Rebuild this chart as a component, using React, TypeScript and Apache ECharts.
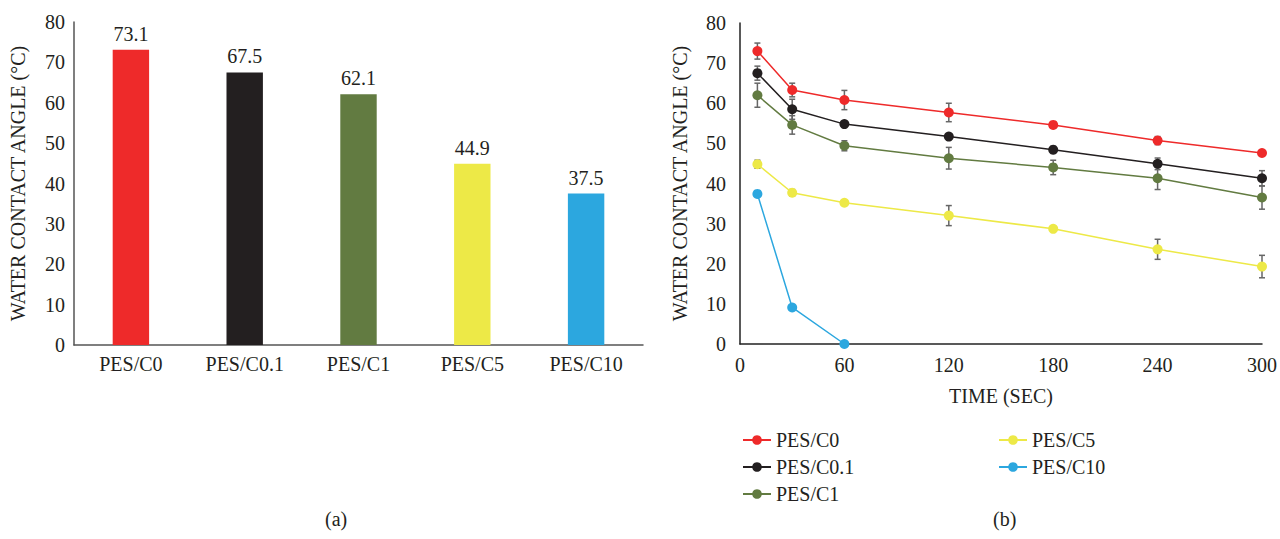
import React, { useEffect, useRef } from "react";
import * as echarts from "echarts";

// ---- data ----
const barCategories = ["PES/C0", "PES/C0.1", "PES/C1", "PES/C5", "PES/C10"];
const barValues = [73.1, 67.5, 62.1, 44.9, 37.5];

const times = [10, 30, 60, 120, 180, 240, 300];
const seriesNames = ["PES/C0", "PES/C0.1", "PES/C1", "PES/C5", "PES/C10"];
const c0Values = [73.0, 63.3, 60.8, 57.7, 54.6, 50.7, 47.6];
const c01Values = [67.5, 58.5, 54.8, 51.7, 48.4, 44.9, 41.3];
const c1Values = [62.0, 54.6, 49.4, 46.3, 44.0, 41.3, 36.5];
const c5Values = [44.8, 37.7, 35.2, 32.0, 28.7, 23.6, 19.3];
const c10Values = [37.4, 9.1, 0];

const c0Errors = [2.0, 1.7, 2.4, 2.3, 0.7, 1.0, 0.5];
const c01Errors = [1.75, 2.5, 0.6, 0.5, 0.9, 1.45, 1.9];
const c1Errors = [3.0, 2.3, 1.25, 2.7, 1.8, 2.8, 2.9];
const c5Errors = [1.0, 0.8, 0.3, 2.5, 0.3, 2.5, 2.8];

const yTicks = { min: 0, max: 80, interval: 10 };
const xTicks = { min: 0, max: 300, interval: 60 };

// ---- styles ----
const colors = ["#EE2A2A", "#231F20", "#627B41", "#EDE947", "#2CA7DF"];
const FONT = "Liberation Serif";
const TXT = "#231F20";
const FS = 20;

export default function App() {
  const ref = useRef<HTMLDivElement>(null);

  useEffect(() => {
    if (!ref.current) return;
    const chart = echarts.init(ref.current, undefined, { renderer: "svg" });

    const lineData = [c0Values, c01Values, c1Values, c5Values, c10Values];
    const errData = [c0Errors, c01Errors, c1Errors, c5Errors];

    const lineSeries: any[] = lineData.map((vals, i) => ({
      name: seriesNames[i],
      type: "line",
      xAxisIndex: 1,
      yAxisIndex: 1,
      data: vals.map((v, j) => [times[j], v]),
      symbol: "circle",
      symbolSize: 10,
      lineStyle: { color: colors[i], width: 1.5 },
      itemStyle: { color: colors[i] },
      z: 3,
    }));

    const errorSeries: any[] = errData.map((errs, i) => ({
      type: "custom",
      name: seriesNames[i] + " error",
      xAxisIndex: 1,
      yAxisIndex: 1,
      z: 2,
      silent: true,
      encode: { x: 0, y: [1, 2] },
      data: errs.map((e, j) => [times[j], lineData[i][j] - e, lineData[i][j] + e]),
      renderItem: (params: any, api: any) => {
        const x = api.value(0);
        const lo = api.coord([x, api.value(1)]);
        const hi = api.coord([x, api.value(2)]);
        const cap = 3;
        const style = { stroke: "#666666", lineWidth: 1.5 };
        return {
          type: "group",
          children: [
            { type: "line", shape: { x1: lo[0], y1: lo[1], x2: hi[0], y2: hi[1] }, style },
            { type: "line", shape: { x1: lo[0] - cap, y1: lo[1], x2: lo[0] + cap, y2: lo[1] }, style },
            { type: "line", shape: { x1: hi[0] - cap, y1: hi[1], x2: hi[0] + cap, y2: hi[1] }, style },
          ],
        };
      },
    }));

    const axisLabel = { color: TXT, fontFamily: FONT, fontSize: FS };
    const nameStyle = { color: TXT, fontFamily: FONT, fontSize: FS };

    chart.setOption({
      animation: false,
      grid: [
        { left: 74, top: 22, width: 569, height: 323, containLabel: false },
        { left: 740, top: 23, width: 526, height: 321, containLabel: false },
      ],
      xAxis: [
        {
          gridIndex: 0,
          type: "category",
          data: barCategories,
          axisLine: { lineStyle: { color: "#555555", width: 1.5 } },
          axisTick: { show: false },
          axisLabel: { ...axisLabel, margin: 9 },
        },
        {
          gridIndex: 1,
          type: "value",
          min: xTicks.min,
          max: xTicks.max,
          interval: xTicks.interval,
          splitLine: { show: false },
          axisLine: { lineStyle: { color: "#222222", width: 1.5 } },
          axisTick: { show: false },
          axisLabel: { ...axisLabel, margin: 11 },
          name: "TIME (SEC)",
          nameLocation: "middle",
          nameGap: 42,
          nameTextStyle: nameStyle,
        },
      ],
      yAxis: [
        {
          gridIndex: 0,
          type: "value",
          min: yTicks.min,
          max: yTicks.max,
          interval: yTicks.interval,
          splitLine: { show: false },
          axisLine: { show: true, lineStyle: { color: "#555555", width: 1.5 } },
          axisTick: { show: false },
          axisLabel: { ...axisLabel, margin: 9 },
          name: "WATER CONTACT ANGLE (°C)",
          nameLocation: "middle",
          nameRotate: 90,
          nameGap: 46,
          nameTextStyle: nameStyle,
        },
        {
          gridIndex: 1,
          type: "value",
          min: yTicks.min,
          max: yTicks.max,
          interval: yTicks.interval,
          splitLine: { show: false },
          axisLine: { show: true, lineStyle: { color: "#222222", width: 1.5 } },
          axisTick: { show: false },
          axisLabel: { ...axisLabel, margin: 14 },
          name: "WATER CONTACT ANGLE (°C)",
          nameLocation: "middle",
          nameRotate: 90,
          nameGap: 50,
          nameTextStyle: nameStyle,
        },
      ],
      legend: [
        {
          data: seriesNames.slice(0, 3),
          orient: "vertical",
          left: 737,
          top: 425,
          itemGap: 7,
          itemWidth: 28,
          itemHeight: 12,
          textStyle: { color: TXT, fontFamily: FONT, fontSize: FS },
        },
        {
          data: seriesNames.slice(3),
          orient: "vertical",
          left: 993,
          top: 425,
          itemGap: 7,
          itemWidth: 28,
          itemHeight: 12,
          textStyle: { color: TXT, fontFamily: FONT, fontSize: FS },
        },
      ],
      graphic: [
        {
          type: "text",
          left: 325,
          top: 509,
          style: { text: "(a)", fill: TXT, font: `${FS}px "${FONT}"` },
        },
        {
          type: "text",
          left: 993,
          top: 509,
          style: { text: "(b)", fill: TXT, font: `${FS}px "${FONT}"` },
        },
      ],
      series: [
        {
          type: "bar",
          xAxisIndex: 0,
          yAxisIndex: 0,
          data: barValues.map((v, i) => ({ value: v, itemStyle: { color: colors[i] } })),
          barWidth: "32%",
          label: {
            show: true,
            position: "top",
            distance: 6,
            color: TXT,
            fontFamily: FONT,
            fontSize: FS,
          },
        },
        ...errorSeries,
        ...lineSeries,
      ],
    });

    return () => chart.dispose();
  }, []);

  return (
    <div
      ref={ref}
      style={{ position: "fixed", left: 0, top: 0, width: 1280, height: 539, background: "#fff" }}
    />
  );
}
